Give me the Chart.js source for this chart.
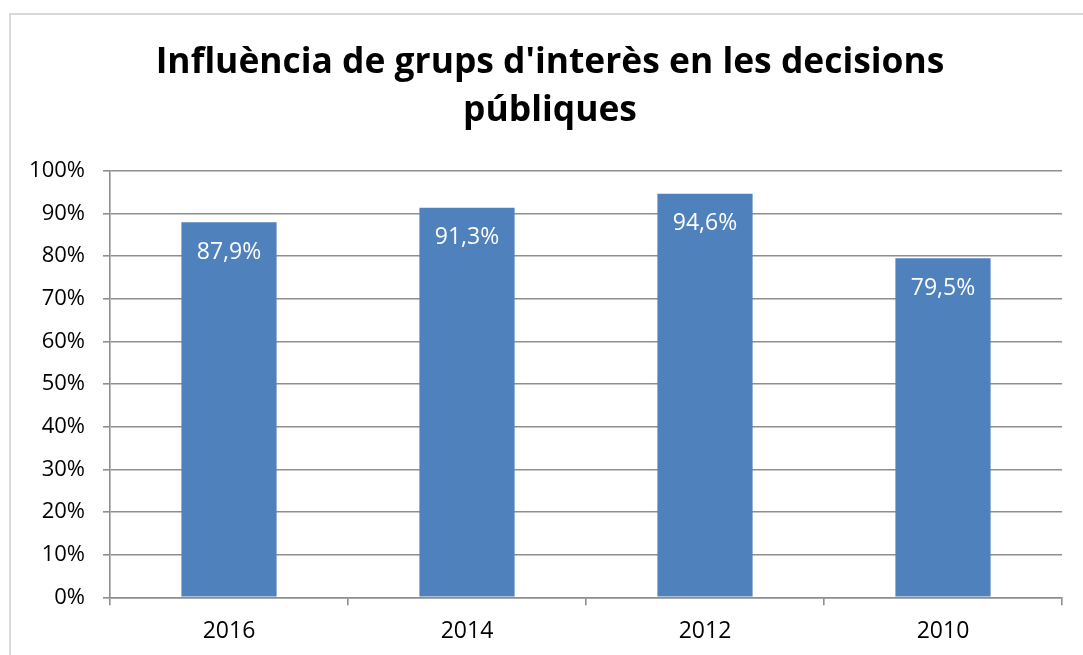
<!DOCTYPE html>
<html>
<head>
<meta charset="utf-8">
<script src="https://cdn.jsdelivr.net/npm/chart.js@4.4.1/dist/chart.umd.min.js"></script>
<style>
html,body{margin:0;padding:0;background:#fff;}
#wrap{position:relative;width:1083px;height:655px;}
</style>
</head>
<body>
<div id="wrap"><canvas id="c" width="1083" height="655"></canvas></div>
<script>
const categories = ['2016', '2014', '2012', '2010'];
const values = [87.9, 91.3, 94.6, 79.5];
const valueLabels = ['87,9%', '91,3%', '94,6%', '79,5%'];
const yTicks = [0, 10, 20, 30, 40, 50, 60, 70, 80, 90, 100];
const titleLines = ["Influència de grups d'interès en les decisions", 'públiques'];

const borderPlugin = {
  id: 'frame',
  beforeDraw(chart) {
    const ctx = chart.ctx;
    ctx.save();
    ctx.strokeStyle = '#d9d9d9';
    ctx.lineWidth = 2;
    ctx.strokeRect(10, 14, 1200, 800);
    ctx.restore();
  }
};

const titlePlugin = {
  id: 'customTitle',
  afterDraw(chart) {
    const ctx = chart.ctx;
    ctx.save();
    ctx.fillStyle = '#000000';
    ctx.font = 'bold 35.4px "Open Sans"';
    ctx.textAlign = 'center';
    ctx.textBaseline = 'middle';
    titleLines.forEach((t, i) => ctx.fillText(t, 550, 63 + i * 48));
    ctx.restore();
  }
};

const labelPlugin = {
  id: 'valueLabels',
  afterDatasetsDraw(chart) {
    const ctx = chart.ctx;
    const meta = chart.getDatasetMeta(0);
    ctx.save();
    ctx.fillStyle = '#ffffff';
    ctx.font = '23px "Open Sans"';
    ctx.textAlign = 'center';
    ctx.textBaseline = 'middle';
    meta.data.forEach((bar, i) => {
      ctx.fillText(valueLabels[i], bar.x, bar.y + 30);
    });
    ctx.restore();
  }
};

new Chart(document.getElementById('c'), {
  type: 'bar',
  data: {
    labels: categories,
    datasets: [{
      data: values,
      backgroundColor: '#4f81bd',
      borderWidth: 0,
      barPercentage: 0.4,
      categoryPercentage: 1.0
    }]
  },
  options: {
    responsive: false,
    animation: false,
    devicePixelRatio: 1,
    layout: { padding: { left: 0, right: 21, top: 170.7, bottom: 0 } },
    plugins: {
      legend: { display: false },
      tooltip: { enabled: false },
      title: { display: false }
    },
    scales: {
      x: {
        offset: true,
        grid: {
          display: true,
          drawOnChartArea: false,
          drawTicks: true,
          tickLength: 8,
          color: '#8e8e8e',
          lineWidth: 1.6,
          offset: true
        },
        border: { display: true, color: '#8e8e8e', width: 1.6 },
        ticks: {
          color: '#000000',
          font: { family: '"Open Sans"', size: 23 },
          padding: 12
        },
        afterFit(scale) { scale.height = 57.7; }
      },
      y: {
        min: 0,
        max: 100,
        afterBuildTicks(scale) { scale.ticks = yTicks.map(v => ({ value: v })); },
        grid: {
          color: '#8e8e8e',
          lineWidth: 1.6,
          tickLength: 7,
          drawTicks: true
        },
        border: { display: true, color: '#8e8e8e', width: 1.6 },
        ticks: {
          color: '#000000',
          font: { family: '"Open Sans"', size: 22 },
          padding: 18,
          callback: (v) => v + '%'
        },
        afterFit(scale) { scale.width = 110; }
      }
    }
  },
  plugins: [borderPlugin, labelPlugin, titlePlugin]
});
</script>
</body>
</html>
